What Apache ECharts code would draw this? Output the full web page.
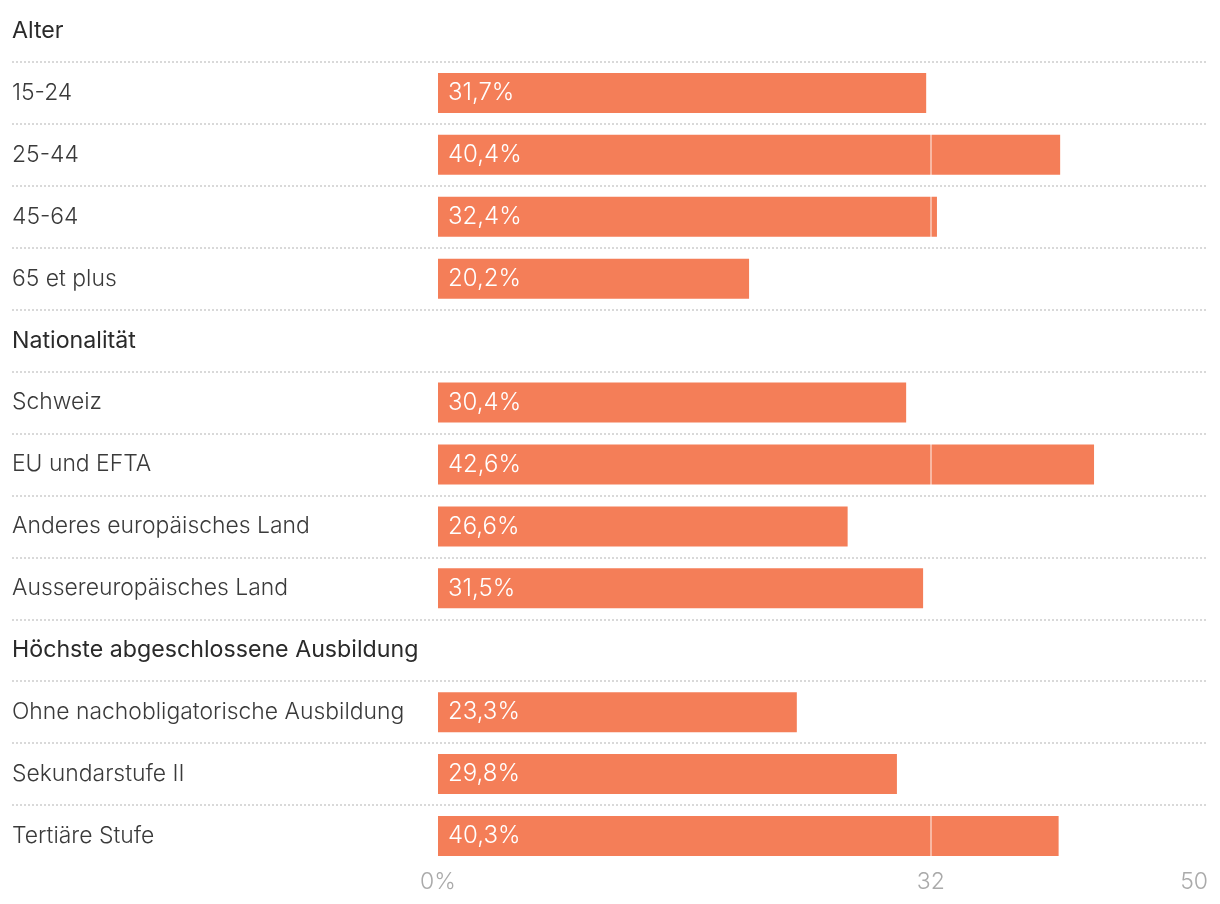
<!DOCTYPE html>
<html>
<head>
<meta charset="utf-8">
<script src="https://cdn.jsdelivr.net/npm/echarts@6/dist/echarts.min.js"></script>
<style>
html,body{margin:0;padding:0;background:#fff;}
#chart{width:1220px;height:904px;}
</style>
</head>
<body>
<div id="chart"></div>
<script>
const categories = [
  "Alter", "15-24", "25-44", "45-64", "65 et plus",
  "Nationalität", "Schweiz", "EU und EFTA", "Anderes europäisches Land", "Aussereuropäisches Land",
  "Höchste abgeschlossene Ausbildung", "Ohne nachobligatorische Ausbildung", "Sekundarstufe II", "Tertiäre Stufe"
];
const headers = ["Alter", "Nationalität", "Höchste abgeschlossene Ausbildung"];
const values = [null, 31.7, 40.4, 32.4, 20.2, null, 30.4, 42.6, 26.6, 31.5, null, 23.3, 29.8, 40.3];
const tickValues = [0, 32, 50];
const referenceValue = 32;

const FONT = "Inter, 'Noto Sans', sans-serif";
const fmt = v => v.toFixed(1).replace('.', ',') + '%';

const chart = echarts.init(document.getElementById('chart'));
chart.setOption({
  animation: false,
  backgroundColor: '#fff',
  grid: [
    { left: 12, right: 12, top: -1, bottom: 37 },
    { left: 438, right: 12, top: -1, bottom: 37 }
  ],
  xAxis: [
    { gridIndex: 0, type: 'value', show: false, min: 0, max: 1 },
    {
      gridIndex: 1, type: 'value', min: 0, max: 50,
      axisLine: { show: false }, axisTick: { show: false }, splitLine: { show: false },
      axisLabel: {
        customValues: tickValues,
        formatter: v => v === 0 ? '0%' : String(v),
        color: '#aaaaaa', fontSize: 23, fontFamily: FONT, fontWeight: 300,
        margin: 4, alignMaxLabel: 'right'
      }
    }
  ],
  yAxis: [
    {
      gridIndex: 0, type: 'category', inverse: true, data: categories,
      axisLine: { show: false }, axisTick: { show: false },
      splitLine: {
        show: true, showMinLine: false, showMaxLine: false,
        lineStyle: { color: '#d9d9d9', width: 2, type: [2, 2] }
      },
      axisLabel: {
        inside: true, margin: 0,
        formatter: v => headers.includes(v) ? '{h|' + v + '}' : '{n|' + v + '}',
        rich: {
          h: { fontSize: 23.2, color: '#2a2a2a', fontFamily: FONT, fontWeight: 400 },
          n: { fontSize: 22.9, color: '#3a3a3a', fontFamily: FONT, fontWeight: 300 }
        }
      }
    },
    { gridIndex: 1, type: 'category', inverse: true, data: categories, show: false }
  ],
  series: [{
    type: 'bar', xAxisIndex: 1, yAxisIndex: 1,
    data: values, barWidth: 40,
    itemStyle: { color: '#f47e58' },
    label: {
      show: true, position: 'insideLeft', distance: 10,
      formatter: p => p.value == null ? '' : fmt(p.value),
      color: '#ffffff', fontSize: 24, fontFamily: FONT, fontWeight: 300
    },
    markLine: {
      silent: true, symbol: 'none',
      label: { show: false },
      lineStyle: { color: 'rgba(255,255,255,0.45)', width: 2, type: 'solid' },
      data: [{ xAxis: referenceValue }]
    }
  }]
});
</script>
</body>
</html>
